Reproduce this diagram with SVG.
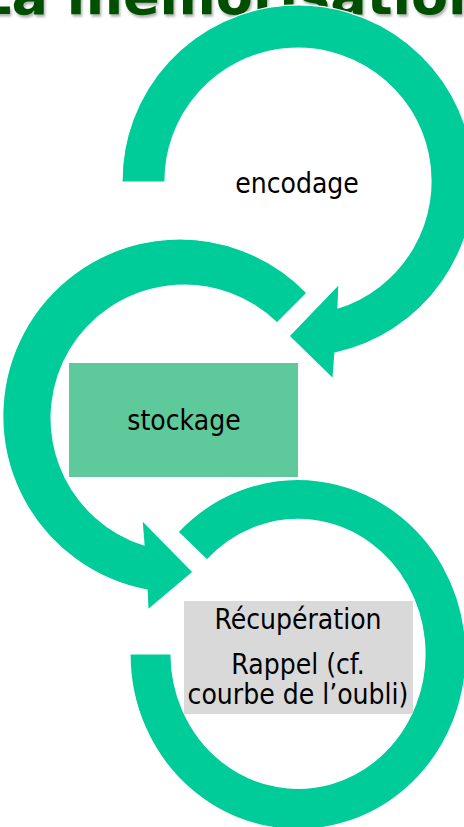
<svg xmlns="http://www.w3.org/2000/svg" width="464" height="827" viewBox="0 0 464 827">
<defs>
<filter id="shadow" x="-10%" y="-50%" width="120%" height="200%">
<feDropShadow dx="1.5" dy="2.5" stdDeviation="1" flood-color="#000000" flood-opacity="0.3"/>
</filter>
</defs>
<style>
.title{font-family:"DejaVu Sans","Liberation Sans",sans-serif;font-weight:bold;font-size:54px;fill:#005000;}
.lbl{font-family:"DejaVu Sans Condensed","DejaVu Sans",sans-serif;font-stretch:condensed;font-size:28px;fill:#000;text-anchor:middle;}
.arc{fill:#00CC99;stroke:#FFFFFF;stroke-width:1.2;}
</style>
<rect width="464" height="827" fill="#FFFFFF"/>
<g id="title">
<text class="title" x="-23" y="14" filter="url(#shadow)">La mémorisation</text>
</g>
<g id="connectors">
<path class="arc" d="M 122 182 A 176 176 0 1 1 335 353 L 333 379 L 289 336 L 339 284 L 338 308 A 133 133 0 1 0 165 182 Z"/>
<path class="arc" d="M 307 293 A 177 177 0 1 0 147 590 L 148 610 L 193 572 L 142 520 L 144 545 A 133 133 0 1 1 277 323 Z"/>
<path class="arc" d="M 178 532 A 168 175 0 1 1 130 654 L 171 654 A 127 134.5 0 1 0 207 560 Z"/>
</g>
<g id="node-encodage">
<text class="lbl" x="297" y="193">encodage</text>
</g>
<g id="node-stockage">
<rect x="69" y="363" width="229" height="114" fill="#5EC99B"/>
<text class="lbl" x="184" y="430">stockage</text>
</g>
<g id="node-recuperation">
<rect x="184" y="601" width="229" height="113" fill="#D9D9D9"/>
<text class="lbl" x="298" y="629">Récupération</text>
<text class="lbl" x="298" y="674">Rappel (cf.</text>
<text class="lbl" x="298" y="704">courbe de l’oubli)</text>
</g>
</svg>
